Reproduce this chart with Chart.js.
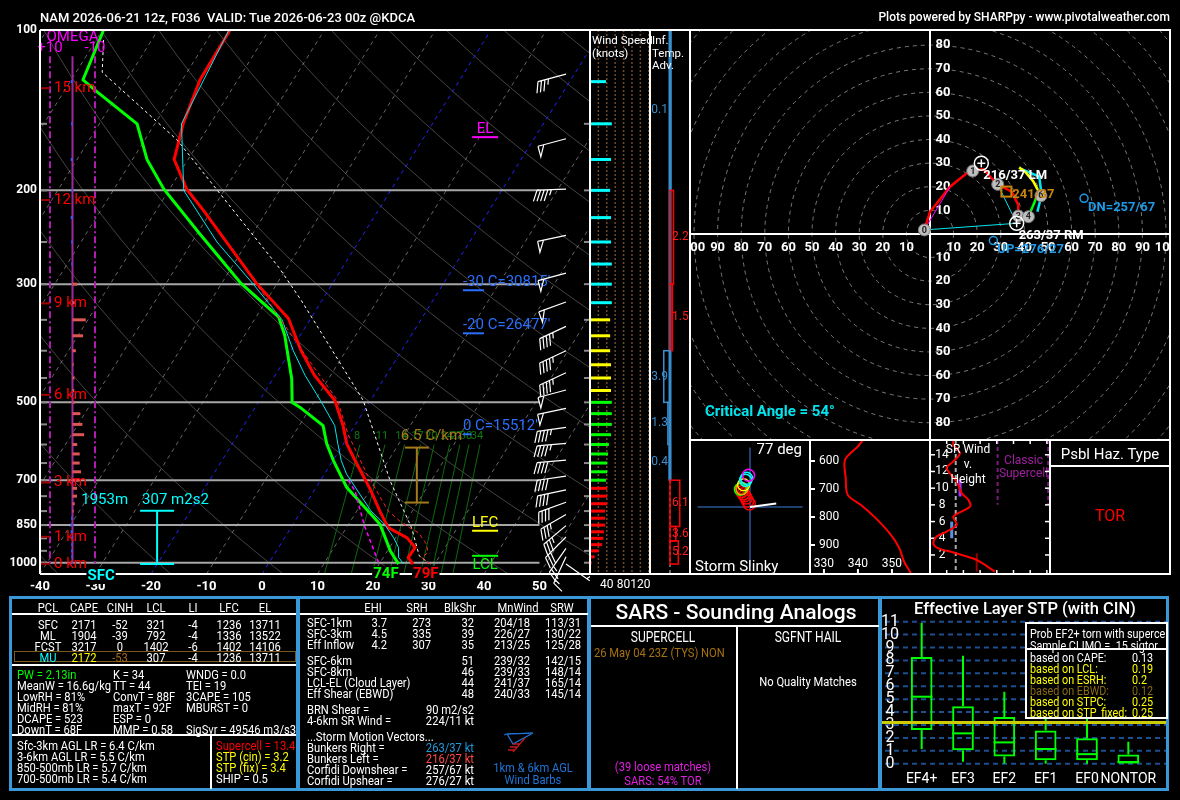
<!DOCTYPE html>
<html>
<head>
<meta charset="utf-8">
<title>NAM KDCA sounding</title>
<script src="https://cdn.jsdelivr.net/npm/chart.js@4.4.1/dist/chart.umd.min.js"></script>
<style>
  html, body { margin: 0; padding: 0; background: #000; }
  #wrap { position: relative; width: 1180px; height: 800px; overflow: hidden; background: #000;
          font-family: Roboto, "Liberation Sans", sans-serif; color: #fff; }
  #wrap canvas { position: absolute; }
  .t { position: absolute; white-space: pre; line-height: 1; }
  .ln { position: absolute; }
  .pan { position: absolute; border: 3px solid #3b98d8; box-sizing: border-box; background: transparent; }
</style>
</head>
<body>
<div id="wrap">
  <canvas id="skew" width="590" height="600" style="left:0;top:0"></canvas>
  <canvas id="spd" width="60" height="570" style="left:590px;top:30px"></canvas>
  <canvas id="adv" width="40" height="544" style="left:650px;top:30px"></canvas>
  <canvas id="hodo" width="480" height="410" style="left:690px;top:30px"></canvas>
  <canvas id="slinky" width="120" height="134" style="left:690px;top:440px"></canvas>
  <canvas id="thetae" width="120" height="134" style="left:810px;top:440px"></canvas>
  <canvas id="srw" width="120" height="134" style="left:930px;top:440px"></canvas>
  <canvas id="stp" width="288" height="195" style="left:880px;top:597px"></canvas>
</div>
<script>
// ---------- sounding profile ----------
const tempP = [1006, 978, 936, 897, 859, 799, 727, 643, 598, 553, 496, 445, 400, 348, 299, 218, 199, 175, 150, 124, 100];
const tempC = [26.1, 24.5, 24.6, 22.0, 17.5, 14.1, 9.9, 4.0, 0.6, -2.1, -6.4, -12.9, -18.1, -24.0, -33.7, -51.5, -56.9, -62.5, -64.9, -66.8, -67.0];
const dwptP = [1006, 950, 910, 846, 776, 722, 643, 598, 553, 511, 500, 452, 374, 346, 299, 241, 199, 175, 150, 130, 124, 100];
const dwptC = [23.5, 20.5, 18.7, 15.6, 10.1, 5.5, 0.1, -3.0, -5.7, -11.9, -13.9, -16.6, -22.8, -25.9, -36.5, -49.6, -61.0, -67.4, -73.2, -84.4, -87.9, -89.8];
const vtP = [1006, 978, 957, 923, 878, 846, 799, 681, 573, 496, 400, 300];
const vtC = [29.2, 26.9, 27.5, 26.3, 23.5, 19.8, 15.6, 7.6, -0.3, -5.9, -17.9, -33.6];
const wetP = [1006, 978, 936, 897, 846, 799, 743, 682, 643, 598, 553, 496, 445, 400, 350, 300, 250, 200, 150, 100];
const wetC = [24.4, 22.8, 21.6, 19.6, 16.4, 12.5, 8.6, 4.0, 1.5, -1.0, -3.6, -9.0, -14.6, -19.5, -25.0, -34.2, -45.5, -57.3, -65.2, -67.2];
const parcelP = [1006, 971, 859, 702, 496, 322, 279, 161, 120, 103];
const parcelC = [29.2, 26.3, 21.7, 12.6, -1.3, -23.7, -31.5, -64.1, -85.3, -89.0];
const ddP = [700, 733, 852, 1006];
const ddC = [5.0, 7.4, 13.0, 20.0];

// wind barbs
const barbP = [121, 160, 199, 243, 286, 324, 360, 400, 440, 474, 513, 557, 597, 642, 688, 730, 770, 812, 852, 895, 940, 975, 1006];
const barbDir = [255, 255, 268, 258, 255, 250, 245, 245, 245, 255, 258, 262, 265, 265, 262, 258, 250, 240, 230, 225, 215, 205, 125];
const barbSpd = [35, 50, 45, 50, 50, 50, 45, 45, 45, 50, 50, 45, 45, 40, 40, 40, 40, 35, 35, 30, 25, 15, 5];

// wind speed column (every 25 mb)
const spdP = [125, 150, 175, 200, 225, 250, 275, 300, 325, 350, 375, 400, 425, 450, 475, 500, 525, 550, 575, 600, 625, 650, 675, 700, 725, 750, 775, 800, 825, 850, 875, 900, 925, 950, 975, 1000];
const spdKt = [38, 52, 50, 48, 50, 50, 52, 52, 52, 48, 48, 48, 50, 50, 50, 52, 52, 52, 50, 45, 43, 41, 41, 38, 41, 41, 41, 36, 36, 36, 33, 32, 29, 21, 11, 4];

// omega (microbar/s)
const omegaP = spdP;
const omegaV = [0.8, 0.6, 0.8, 0.5, 0.8, 0.6, 0.5, -2.1, -1.0, -5.9, -4.7, -1.5, -0.5, -0.9, -0.8, -1.0, -3.5, -4.4, -5.2, -2.1, -3.2, -3.2, -3.8, -3.0, -2.0, -2.0, -1.0, -0.5, 0.6, 0.8, 0.8, 0.6, 0.5, 0.6, 0.5, 0.4];

// height markers
const hgtKm = [0, 1, 3, 6, 9, 12, 15];
const hgtP = [1005, 894, 707, 484, 326, 208.5, 128.6];

// parcel levels, isotherm heights
const lvlName = ['LCL', 'LFC', 'EL'];
const lvlP = [970.6, 871, 158.9];
const lvlColor = ['#00ff00', '#ffff00', '#ff00ff'];
const isoText = ["-30 C=30815'", "-20 C=26477'", "0 C=15512'"];
const isoP = [308, 371, 574];
const mixRatios = [8, 11, 14, 17, 20, 24, 27, 30, 34];

// inferred temperature advection
const advTop = [100, 200, 300, 400, 500, 600, 700, 855, 910];
const advBot = [200, 300, 400, 500, 600, 700, 855, 910, 1006];
const advVal = [-0.1, 2.2, 1.5, -3.9, -1.3, -0.4, 6.1, 3.6, 5.2];

// hodograph (kt)
const hodoKm = [0, 0.25, 0.5, 0.8, 1.0, 1.3, 1.7, 2.0, 2.4, 2.7, 2.9, 3.0, 3.5, 4.0, 4.7, 5.4, 6.0, 6.8, 7.6, 8.3, 9.0, 10.0, 11.0, 12.0];
const hodoU = [-2.4, 0, 8.5, 15.5, 18.1, 22.6, 26.1, 28.7, 34.6, 37.4, 37.4, 37.4, 39.5, 41.7, 43.8, 45.2, 47.0, 43.8, 40.3, 37.8, 38.6, 46.3, 47.3, 45.5];
const hodoV = [1.7, 9.4, 20.0, 25.7, 26.7, 27.5, 23.6, 21.0, 17.9, 12.3, 8.8, 7.6, 6.2, 7.3, 12.3, 15.8, 16.2, 22.2, 26.4, 28.1, 27.5, 24.3, 16.5, 9.4];
const hodoMarks = [0, 1, 2, 3, 4, 6];
const stormDir = [263, 216];
const stormSpd = [37, 37];
const meanDir = 241, meanSpd = 37;
const corfDir = [257, 276];
const corfSpd = [67, 27];

// storm slinky
const slinkyX = [-0.7, -2.7, -4.3, -6.0, -7.7, -9.3, -11.0, -9.3, -7.3, -5.0, -4.0, -1.7];
const slinkyY = [3.3, 6.7, 10.0, 12.7, 15.0, 17.3, 20.0, 20.7, 25.0, 30.0, 32.3, 35.7];
const slinkyCol = ['#ff0000', '#ff0000', '#ff0000', '#ff0000', '#ff0000', '#ff0000', '#00ff00', '#ff9900', '#ffff00', '#00ffff', '#00ffff', '#ff00ff'];
const slinkyVec = [30, 4];

// theta-e
const teP = [525, 549, 596, 660, 721, 757, 805, 864, 912, 960, 1001];
const teK = [341.5, 339.9, 336.2, 336.4, 337.0, 340.9, 345.3, 349.7, 352.2, 353.6, 355.6];

// storm-relative wind vs height
const srKm = [0, 1.4, 2.3, 2.8, 3.4, 4.2, 4.8, 5.6, 6.6, 7.8, 8.6, 9.4, 10.8, 12.4, 13.2, 14.2, 15.2, 15.8];
const srKt = [38.9, 28, 14, 5, 2, 4, 10, 16, 14, 24, 23, 19, 16, 10, 14, 18, 14, 14];

// STP box plot
const stpCats = ['EF4+', 'EF3', 'EF2', 'EF1', 'EF0', 'NONTOR'];
const stpLo = [1.14, 0.15, 0, 0, 0, 0];
const stpQ1 = [2.61, 1.04, 0.56, 0.26, 0.26, 0];
const stpMed = [5.19, 2.35, 1.65, 1.14, 0.74, 0.13];
const stpQ3 = [8.27, 4.45, 3.62, 2.58, 1.97, 0.71];
const stpHi = [10.9, 8.36, 5.57, 4.4, 3.54, 1.7];
const stpNow = 3.2;

// ---------- helpers ----------
const P_BOT = 1050;
const SKEW = 26.05;
const sx = (t, p) => t + SKEW * Math.log(P_BOT / p);
const toPts = (ps, ts) => ps.map((p, i) => ({ x: sx(ts[i], p), y: p }));
const uv = (dir, spd) => ({ x: -spd * Math.sin(dir * Math.PI / 180), y: -spd * Math.cos(dir * Math.PI / 180) });

function trace(data, color, width, dash, tension) {
  return { data, borderColor: color, borderWidth: width, borderDash: dash || [], showLine: true,
           pointRadius: 0, fill: false, tension: tension || 0 };
}
function seg(ctx, x1, y1, x2, y2) { ctx.beginPath(); ctx.moveTo(x1, y1); ctx.lineTo(x2, y2); ctx.stroke(); }
function ctext(ctx, s, x, y, font, color, align, bg) {
  ctx.font = font; ctx.textAlign = align || 'center'; ctx.textBaseline = 'middle';
  if (bg) {
    const w = ctx.measureText(s).width;
    const x0 = align === 'left' ? x : align === 'right' ? x - w : x - w / 2;
    ctx.fillStyle = bg; ctx.fillRect(x0 - 1, y - 8, w + 2, 16);
  }
  ctx.fillStyle = color; ctx.fillText(s, x, y);
}
function baseOpts(pad, scales) {
  return { responsive: false, animation: false, events: [],
           layout: { padding: pad },
           plugins: { legend: { display: false }, tooltip: { enabled: false } },
           scales };
}
function drawBarb(ctx, x0, y0, dir, spd) {
  const L = 29, F = 11, G = 3.6;
  const r = dir * Math.PI / 180;
  const vx = Math.sin(r), vy = -Math.cos(r);
  const nx = vy, ny = -vx;
  const tx = x0 + vx * L, ty = y0 + vy * L;
  ctx.beginPath(); ctx.moveTo(x0, y0); ctx.lineTo(tx, ty);
  let s = Math.round(spd / 5) * 5, d = 0;
  while (s >= 50) {
    const ax = tx - vx * d, ay = ty - vy * d;
    ctx.moveTo(ax, ay); ctx.lineTo(ax + nx * F, ay + ny * F); ctx.lineTo(tx - vx * (d + 6), ty - vy * (d + 6));
    d += 8; s -= 50;
  }
  while (s >= 10) {
    const ax = tx - vx * d, ay = ty - vy * d;
    ctx.moveTo(ax, ay); ctx.lineTo(ax + nx * F + vx * 4, ay + ny * F + vy * 4);
    d += G; s -= 10;
  }
  if (s >= 5) {
    if (d === 0) d = G;
    const ax = tx - vx * d, ay = ty - vy * d;
    ctx.moveTo(ax, ay); ctx.lineTo(ax + nx * F / 2 + vx * 2, ay + ny * F / 2 + vy * 2);
  }
  ctx.stroke();
}

// ---------- skew-T ----------
const skewDeco = {
  id: 'skewDeco',
  beforeDatasetsDraw(chart) {
    const { ctx, chartArea: a } = chart;
    const xs = chart.scales.x, ys = chart.scales.y;
    const px = (t, p) => xs.getPixelForValue(sx(t, p));
    const py = p => ys.getPixelForValue(p);
    ctx.save();
    ctx.beginPath(); ctx.rect(a.left, a.top, a.width, a.height); ctx.clip();
    // dry adiabats
    ctx.lineWidth = 1; ctx.strokeStyle = 'rgba(170,170,170,0.4)';
    for (let th = -40; th <= 260; th += 20) {
      ctx.beginPath();
      for (let p = 1050; p >= 100; p -= 10) {
        const t = (th + 273.15) * Math.pow(p / 1000, 0.2857) - 273.15;
        if (p === 1050) ctx.moveTo(px(t, p), py(p)); else ctx.lineTo(px(t, p), py(p));
      }
      ctx.stroke();
    }
    // isotherms
    ctx.setLineDash([4, 4]); ctx.strokeStyle = 'rgba(170,170,170,0.6)';
    for (let t = -120; t <= 60; t += 10) {
      if (t === 0 || t === -20) continue;
      seg(ctx, px(t, 1050), py(1050), px(t, 100), py(100));
    }
    ctx.strokeStyle = '#2323ff';
    [0, -20].forEach(t => seg(ctx, px(t, 1050), py(1050), px(t, 100), py(100)));
    // mixing ratio lines
    ctx.setLineDash([]); ctx.strokeStyle = '#0c6a0c'; ctx.lineWidth = 1;
    const tdw = (w, p) => { const e = w * p / (622 + w); const l = Math.log(e / 6.112); return 243.5 * l / (17.67 - l); };
    mixRatios.forEach(w => {
      seg(ctx, px(tdw(w, 1050), 1050), py(1050), px(tdw(w, 600), 600), py(600));
      ctext(ctx, String(w), px(tdw(w, 600), 600) - 3, py(600) - 8, '11px Roboto', '#0d7a0d');
    });
    ctx.restore();
    // pressure lines
    ctx.save();
    ctx.strokeStyle = '#a6a6a6'; ctx.lineWidth = 2;
    [200, 300, 500, 700, 850, 1000].forEach(p => seg(ctx, a.left, py(p), xs.getPixelForValue(50), py(p)));
    ctx.strokeStyle = '#8a8a8a';
    for (let p = 150; p <= 1000; p += 50) {
      seg(ctx, a.left, py(p), a.left + 7, py(p));
      seg(ctx, a.right - 6, py(p), a.right, py(p));
    }
    ctx.restore();
  },
  afterDatasetsDraw(chart) {
    const { ctx, chartArea: a } = chart;
    const xs = chart.scales.x, ys = chart.scales.y, xo = chart.scales.xo;
    const py = p => ys.getPixelForValue(p);
    const ppx = v => xs.getPixelForValue(v);
    ctx.save();
    // omega column
    const o0 = xo.getPixelForValue(0), oP = xo.getPixelForValue(10), oM = xo.getPixelForValue(-10);
    ctx.lineWidth = 2; ctx.strokeStyle = '#b01cb0'; ctx.setLineDash([7, 3, 2, 3]);
    [oP, oM].forEach(x => seg(ctx, x, py(112), x, py(1006)));
    ctx.setLineDash([]); ctx.strokeStyle = '#9c2a9c';
    seg(ctx, o0, py(112), o0, py(1006));
    ctx.lineWidth = 3;
    omegaP.forEach((p, i) => {
      ctx.strokeStyle = omegaV[i] < 0 ? '#de5555' : '#2f5fff';
      seg(ctx, o0, py(p), xo.getPixelForValue(omegaV[i]), py(p));
    });
    ctext(ctx, 'OMEGA', (oP + oM) / 2, 37, '15px Roboto', '#ff00ff');
    ctext(ctx, '+10', oP, 48, '15px Roboto', '#ff00ff');
    ctext(ctx, '-10', oM, 48, '15px Roboto', '#ff00ff');
    // heights
    hgtKm.forEach((k, i) => {
      ctx.strokeStyle = '#a00000'; ctx.lineWidth = 2;
      seg(ctx, a.left, py(hgtP[i]), a.left + 10, py(hgtP[i]));
      ctext(ctx, k + ' km', a.left + 14, py(hgtP[i]), '15px Roboto', '#ff0000', 'left');
    });
    // effective inflow layer
    const ex = ppx(-18.9), et = py(799), eb = py(1006);
    ctx.strokeStyle = '#00ffff'; ctx.lineWidth = 2;
    seg(ctx, ex, et, ex, eb); seg(ctx, ex - 17, et, ex + 17, et); seg(ctx, ex - 17, eb, ex + 17, eb);
    ctext(ctx, '1953m', ex - 29, et - 11, '15px Roboto', '#00ffff', 'right');
    ctext(ctx, '307 m2s2', ex - 15, et - 11, '15px Roboto', '#00ffff', 'left');
    // lapse rate bracket
    const lx = ppx(27.9), lt = py(608), lb = py(771);
    ctx.strokeStyle = '#a57a1c';
    seg(ctx, lx, lt, lx, lb); seg(ctx, lx - 12, lt, lx + 12, lt); seg(ctx, lx - 12, lb, lx + 12, lb);
    ctext(ctx, '6.5 C/km', lx - 16, lt - 11, '15px Roboto', '#a57a1c', 'left');
    // parcel levels
    const lvx = ppx(40.2);
    lvlName.forEach((n, i) => {
      const y = py(lvlP[i]);
      ctx.strokeStyle = lvlColor[i]; ctx.lineWidth = 2;
      seg(ctx, lvx - 13, y, lvx + 13, y);
      ctext(ctx, n, lvx, n === 'LCL' ? y + 9 : y - 8, '15px Roboto', lvlColor[i]);
    });
    // isotherm heights
    const ix = ppx(36.2);
    isoText.forEach((s, i) => {
      const y = py(isoP[i]);
      ctx.font = '15px Roboto';
      const w = ctx.measureText(s.split(' ')[0]).width;
      ctx.strokeStyle = '#2a6fff'; ctx.lineWidth = 2;
      seg(ctx, ix, y, ix + w, y);
      ctext(ctx, s, ix, y - 8, '15px Roboto', '#2a6fff', 'left');
    });
    // barbs
    ctx.strokeStyle = '#fff'; ctx.lineWidth = 1.2;
    barbP.forEach((p, i) => drawBarb(ctx, a.right - 24, py(p), barbDir[i], barbSpd[i]));
    // frame
    ctx.strokeStyle = '#fff'; ctx.lineWidth = 2;
    seg(ctx, a.left, a.top, a.left, a.bottom);
    seg(ctx, a.left, a.bottom, a.right, a.bottom);
    seg(ctx, a.left, a.top, a.right, a.top);
    // axis labels
    for (let t = -40; t <= 50; t += 10) ctext(ctx, String(t), ppx(t), a.bottom + 13, 'bold 13px Roboto', '#fff');
    [100, 200, 300, 500, 700, 850, 1000].forEach(p => ctext(ctx, String(p), a.left - 3, py(p), 'bold 12px Roboto', '#fff', 'right'));
    const tF = Math.round(tempC[0] * 9 / 5 + 32), dF = Math.round(dwptC[0] * 9 / 5 + 32);
    ctext(ctx, tF + 'F', ppx(sx(tempC[0], tempP[0])), a.bottom, 'bold 15px Roboto', '#ff0000', 'left', '#000');
    ctext(ctx, dF + 'F', ppx(sx(dwptC[0], dwptP[0])), a.bottom, 'bold 15px Roboto', '#00ff00', 'right', '#000');
    ctext(ctx, 'SFC', ppx(-29), a.bottom + 2, 'bold 15px Roboto', '#00ffff', 'center', '#000');
    ctx.restore();
  }
};

new Chart(document.getElementById('skew'), {
  type: 'scatter',
  data: { datasets: [
    trace(toPts(vtP, vtC), '#ff2020', 1, [4, 3]),
    trace(toPts(wetP, wetC), '#00e5ee', 1),
    trace(toPts(parcelP, parcelC), '#ffffff', 1, [3, 3]),
    trace(toPts(ddP, ddC), '#ff00ff', 1.5, [4, 3]),
    trace(toPts(dwptP, dwptC), '#00ff00', 3),
    trace(toPts(tempP, tempC), '#ff0000', 3)
  ] },
  options: baseOpts({ left: 40, top: 30, right: 0, bottom: 26 }, {
    x: { type: 'linear', display: false, min: -40, max: -40 + 550 / 5.55 },
    xo: { type: 'linear', axis: 'x', position: 'bottom', display: false, min: -230, max: 14.444, reverse: true },
    y: { type: 'logarithmic', display: false, min: 100, max: 1050, reverse: true }
  }),
  plugins: [skewDeco]
});

// ---------- wind speed column ----------
const spdColor = p => p > hgtP[2] ? '#ff0000' : p > hgtP[3] ? '#00ff00' : p > hgtP[4] ? '#ffff00' : '#00ffff';
const spdDeco = {
  id: 'spdDeco',
  beforeDatasetsDraw(chart) {
    const { ctx, chartArea: a, scales: { x } } = chart;
    ctx.save();
    ctx.strokeStyle = '#6e4a2e'; ctx.lineWidth = 1.5; ctx.setLineDash([2, 2]);
    for (let v = 20; v <= 140; v += 20) seg(ctx, x.getPixelForValue(v), a.top, x.getPixelForValue(v), a.bottom);
    ctx.setLineDash([]);
    [40, 80, 120].forEach(v => ctext(ctx, String(v), x.getPixelForValue(v), a.bottom + 11, '12px Roboto', '#fff'));
    ctx.restore();
  }
};
new Chart(document.getElementById('spd'), {
  type: 'scatter',
  data: { datasets: spdP.map((p, i) => trace([{ x: 0, y: p }, { x: spdKt[i], y: p }], spdColor(p), 3)) },
  options: baseOpts({ left: 0, top: 0, right: 0, bottom: 26 }, {
    x: { type: 'linear', display: false, min: 0, max: 143 },
    y: { type: 'logarithmic', display: false, min: 100, max: 1050, reverse: true }
  }),
  plugins: [spdDeco]
});

// ---------- inferred temperature advection ----------
const advDeco = {
  id: 'advDeco',
  afterDatasetsDraw(chart) {
    const { ctx, chartArea: a, scales: { x, y } } = chart;
    const x0 = x.getPixelForValue(0);
    ctx.save();
    ctx.strokeStyle = '#888'; ctx.lineWidth = 1.5; ctx.setLineDash([3, 3]);
    seg(ctx, x0, a.top, x0, a.bottom);
    ctx.setLineDash([]);
    ctx.strokeStyle = '#3a8fd0'; ctx.lineWidth = 3;
    seg(ctx, x0, y.getPixelForValue(100), x0, y.getPixelForValue(700));
    advVal.forEach((v, i) => {
      const yt = y.getPixelForValue(advTop[i]), yb = y.getPixelForValue(advBot[i]);
      const xv = x.getPixelForValue(v);
      const c = v < 0 ? '#3a8fd0' : '#ff0000';
      ctx.strokeStyle = c; ctx.lineWidth = 1.5;
      ctx.strokeRect(Math.min(x0, xv), yt, Math.max(Math.abs(xv - x0), 1), yb - yt);
      const ym = y.getPixelForValue(Math.sqrt(advTop[i] * advBot[i]));
      ctext(ctx, v.toFixed(1), v < 0 ? x0 - 2 : x0 + 2, ym, '12px Roboto', v < 0 ? '#3a8fd0' : '#ff2020', v < 0 ? 'right' : 'left');
    });
    ctx.restore();
  }
};
new Chart(document.getElementById('adv'), {
  type: 'scatter',
  data: { datasets: [] },
  options: baseOpts(0, {
    x: { type: 'linear', display: false, min: -12.5, max: 12.5 },
    y: { type: 'logarithmic', display: false, min: 100, max: 1050, reverse: true }
  }),
  plugins: [advDeco]
});

// ---------- hodograph ----------
const hodoPts = hodoKm.map((k, i) => ({ k, x: hodoU[i], y: hodoV[i] }));
const hodoSeg = (lo, hi) => hodoPts.filter(o => o.k >= lo && o.k <= hi).map(o => ({ x: o.x, y: o.y }));
const atKm = k => hodoPts.find(o => o.k === k);
const rm = uv(stormDir[0], stormSpd[0]), lm = uv(stormDir[1], stormSpd[1]);
const hodoDeco = {
  id: 'hodoDeco',
  beforeDatasetsDraw(chart) {
    const { ctx, chartArea: a, scales: { x, y } } = chart;
    const cx = x.getPixelForValue(0), cy = y.getPixelForValue(0);
    const k = x.getPixelForValue(1) - cx;
    ctx.save();
    ctx.beginPath(); ctx.rect(a.left, a.top, a.width, a.height); ctx.clip();
    ctx.strokeStyle = '#7a7a7a'; ctx.lineWidth = 1; ctx.setLineDash([4, 4]);
    for (let r = 10; r <= 140; r += 10) { ctx.beginPath(); ctx.arc(cx, cy, r * k, 0, Math.PI * 2); ctx.stroke(); }
    ctx.setLineDash([]); ctx.strokeStyle = '#fff'; ctx.lineWidth = 2;
    seg(ctx, a.left, cy, a.right, cy); seg(ctx, cx, a.top, cx, a.bottom);
    for (let r = 10; r <= 100; r += 10) {
      ctext(ctx, String(r), cx + r * k, cy + 14, 'bold 13px Roboto', '#fff');
      ctext(ctx, String(r), cx - r * k, cy + 14, 'bold 13px Roboto', '#fff');
      if (r <= 90) {
        ctext(ctx, String(r), cx + 13, cy - r * k, 'bold 13px Roboto', '#fff');
        ctext(ctx, String(r), cx + 13, cy + r * k, 'bold 13px Roboto', '#fff');
      }
    }
    ctx.restore();
  },
  afterDatasetsDraw(chart) {
    const { ctx, scales: { x, y } } = chart;
    const P = o => [x.getPixelForValue(o.x), y.getPixelForValue(o.y)];
    ctx.save();
    hodoMarks.forEach(km => {
      const [X, Y] = P(atKm(km));
      ctx.beginPath(); ctx.arc(X, Y, 6, 0, Math.PI * 2);
      ctx.fillStyle = '#bdbdbd'; ctx.fill(); ctx.strokeStyle = '#777'; ctx.lineWidth = 1; ctx.stroke();
      ctext(ctx, String(km), X, Y + 0.5, 'bold 9px Roboto', '#222');
    });
    [rm, lm].forEach(o => {
      const [X, Y] = P(o);
      ctx.strokeStyle = '#fff'; ctx.lineWidth = 1.5;
      ctx.beginPath(); ctx.arc(X, Y, 7, 0, Math.PI * 2); ctx.stroke();
      seg(ctx, X - 4, Y, X + 4, Y); seg(ctx, X, Y - 4, X, Y + 4);
    });
    ctext(ctx, stormDir[1] + '/' + stormSpd[1] + ' LM', P(lm)[0] + 2, P(lm)[1] + 12, 'bold 13px Roboto', '#fff', 'left');
    ctext(ctx, stormDir[0] + '/' + stormSpd[0] + ' RM', P(rm)[0] + 2, P(rm)[1] + 12, 'bold 13px Roboto', '#fff', 'left');
    const mw = P(uv(meanDir, meanSpd));
    ctx.strokeStyle = '#c8850c'; ctx.lineWidth = 2; ctx.strokeRect(mw[0] - 5, mw[1] - 5, 10, 10);
    ctext(ctx, meanDir + '/' + meanSpd, mw[0] + 6, mw[1] + 3, 'bold 13px Roboto', '#c8850c', 'left');
    ['DN', 'UP'].forEach((n, i) => {
      const [X, Y] = P(uv(corfDir[i], corfSpd[i]));
      ctx.strokeStyle = '#1e9be8'; ctx.lineWidth = 1.5;
      ctx.beginPath(); ctx.arc(X, Y, 4, 0, Math.PI * 2); ctx.stroke();
      ctext(ctx, n + '=' + corfDir[i] + '/' + corfSpd[i], X + 4, Y + 9, 'bold 13px Roboto', '#1e9be8', 'left');
    });
    ctext(ctx, 'Critical Angle = 54\u00b0', 15, 382, 'bold 15px Roboto', '#00e5ee', 'left');
    ctx.restore();
  }
};
new Chart(document.getElementById('hodo'), {
  type: 'scatter',
  data: { datasets: [
    trace([atKm(0), atKm(0.5)], '#ff00ff', 1),
    trace([rm, atKm(0)], '#00e5ee', 1),
    trace([rm, atKm(2.0)], '#00e5ee', 1),
    trace(hodoSeg(0, 3), '#ff0000', 2.5),
    trace(hodoSeg(3, 6), '#00ff00', 2.5),
    trace(hodoSeg(6, 9), '#ffff00', 2.5),
    trace(hodoSeg(9, 12), '#00e5ee', 2.5)
  ] },
  options: baseOpts(0, {
    x: { type: 'linear', display: false, min: -101.7, max: 101.7 },
    y: { type: 'linear', display: false, min: -87.3, max: 86.4 }
  }),
  plugins: [hodoDeco]
});

// ---------- storm slinky ----------
const slinkyDeco = {
  id: 'slinkyDeco',
  beforeDatasetsDraw(chart) {
    const { ctx, chartArea: a, scales: { x, y } } = chart;
    ctx.save(); ctx.strokeStyle = '#1f3f6e'; ctx.lineWidth = 2;
    seg(ctx, a.left, y.getPixelForValue(0), a.right, y.getPixelForValue(0));
    seg(ctx, x.getPixelForValue(0), a.top, x.getPixelForValue(0), a.bottom);
    ctx.restore();
  },
  afterDatasetsDraw(chart) {
    const { ctx, scales: { x, y } } = chart;
    ctx.save(); ctx.strokeStyle = '#fff'; ctx.lineWidth = 2;
    seg(ctx, x.getPixelForValue(0), y.getPixelForValue(0), x.getPixelForValue(slinkyVec[0]), y.getPixelForValue(slinkyVec[1]));
    ctext(ctx, '77 deg', 112, 10, '15px Roboto', '#fff', 'right');
    ctext(ctx, 'Storm Slinky', 5, 127, '15px Roboto', '#fff', 'left');
    ctx.restore();
  }
};
new Chart(document.getElementById('slinky'), {
  type: 'scatter',
  data: { datasets: [{ data: slinkyX.map((v, i) => ({ x: v, y: slinkyY[i] })), pointRadius: 6,
    pointBorderColor: slinkyCol, pointBackgroundColor: 'rgba(0,0,0,0)', pointBorderWidth: 1.5 }] },
  options: baseOpts(0, {
    x: { type: 'linear', display: false, min: -60, max: 60 },
    y: { type: 'linear', display: false, min: -67, max: 67 }
  }),
  plugins: [slinkyDeco]
});

// ---------- theta-e ----------
const teDeco = {
  id: 'teDeco',
  afterDatasetsDraw(chart) {
    const { ctx, chartArea: a, scales: { x, y } } = chart;
    ctx.save(); ctx.strokeStyle = '#fff'; ctx.lineWidth = 2;
    [600, 700, 800, 900].forEach(p => {
      seg(ctx, a.left, y.getPixelForValue(p), a.left + 5, y.getPixelForValue(p));
      ctext(ctx, String(p), a.left + 9, y.getPixelForValue(p), '12px Roboto', '#fff', 'left');
    });
    [330, 340, 350].forEach(t => {
      seg(ctx, x.getPixelForValue(t), a.bottom - 5, x.getPixelForValue(t), a.bottom);
      ctext(ctx, String(t), x.getPixelForValue(t), a.bottom - 10, '12px Roboto', '#fff');
    });
    ctx.restore();
  }
};
new Chart(document.getElementById('thetae'), {
  type: 'scatter',
  data: { datasets: [trace(teK.map((v, i) => ({ x: v, y: teP[i] })), '#ff0000', 2, [], 0.3)] },
  options: baseOpts(0, {
    x: { type: 'linear', display: false, min: 325.9, max: 361.2 },
    y: { type: 'linear', display: false, min: 525, max: 1003.6, reverse: true }
  }),
  plugins: [teDeco]
});

// ---------- SR wind vs height ----------
const srDeco = {
  id: 'srDeco',
  beforeDatasetsDraw(chart) {
    const { ctx, chartArea: a, scales: { x, y } } = chart;
    ctx.save();
    ctx.strokeStyle = '#aaa'; ctx.lineWidth = 2; ctx.setLineDash([4, 3]);
    seg(ctx, x.getPixelForValue(15.4), a.top, x.getPixelForValue(15.4), a.bottom);
    ctx.strokeStyle = '#7a1a7a';
    [40.5, 70.8].forEach(v => seg(ctx, x.getPixelForValue(v), a.top, x.getPixelForValue(v), y.getPixelForValue(8)));
    ctx.setLineDash([]);
    ctext(ctx, 'Classic', x.getPixelForValue(56), 21, '12px Roboto', '#a020a0');
    ctext(ctx, 'Supercell', x.getPixelForValue(56), 34, '12px Roboto', '#a020a0');
    ctx.strokeStyle = '#fff'; ctx.lineWidth = 1.5;
    for (let h = 2; h <= 14; h += 2) {
      seg(ctx, a.left, y.getPixelForValue(h), a.left + 5, y.getPixelForValue(h));
      seg(ctx, a.right - 5, y.getPixelForValue(h), a.right, y.getPixelForValue(h));
      ctext(ctx, String(h), a.left + 12, y.getPixelForValue(h), '12px Roboto', '#fff');
    }
    for (let v = 10; v <= 70; v += 10) {
      seg(ctx, x.getPixelForValue(v), a.top, x.getPixelForValue(v), a.top + 4);
      seg(ctx, x.getPixelForValue(v), a.bottom - 4, x.getPixelForValue(v), a.bottom);
    }
    ctx.lineWidth = 2; ctx.strokeStyle = '#990000';
    seg(ctx, x.getPixelForValue(28), y.getPixelForValue(0), x.getPixelForValue(28), y.getPixelForValue(2.2));
    ctx.lineWidth = 3; ctx.strokeStyle = '#5c8fe0';
    seg(ctx, x.getPixelForValue(13), y.getPixelForValue(4), x.getPixelForValue(13), y.getPixelForValue(6));
    ctx.strokeStyle = '#9933ff';
    seg(ctx, x.getPixelForValue(18), y.getPixelForValue(9), x.getPixelForValue(18), y.getPixelForValue(11));
    ctx.restore();
  },
  afterDatasetsDraw(chart) {
    const { ctx } = chart;
    ctext(ctx, 'SR Wind', 38, 10, '12px Roboto', '#fff');
    ctext(ctx, 'v.', 38, 25, '12px Roboto', '#fff');
    ctext(ctx, 'Height', 38, 40, '12px Roboto', '#fff');
  }
};
new Chart(document.getElementById('srw'), {
  type: 'scatter',
  data: { datasets: [trace(srKt.map((v, i) => ({ x: v, y: srKm[i] })), '#ff0000', 2, [], 0.3)] },
  options: baseOpts(0, {
    x: { type: 'linear', display: false, min: 0, max: 71.86 },
    y: { type: 'linear', display: false, min: -0.28, max: 15.77 }
  }),
  plugins: [srDeco]
});

// ---------- STP box plot ----------
const stpDeco = {
  id: 'stpDeco',
  beforeDatasetsDraw(chart) {
    const { ctx, scales: { y } } = chart;
    ctx.save();
    ctx.strokeStyle = '#1d4f91'; ctx.lineWidth = 2; ctx.setLineDash([5, 4]);
    for (let v = 0; v <= 11; v++) seg(ctx, 5, y.getPixelForValue(v), 286, y.getPixelForValue(v));
    ctx.setLineDash([]);
    for (let v = 0; v <= 11; v++) ctext(ctx, String(v), 10, y.getPixelForValue(v), '16px Roboto', '#fff');
    ctx.restore();
  },
  afterDatasetsDraw(chart) {
    const { ctx, scales: { x, y } } = chart;
    const meta = chart.getDatasetMeta(0);
    ctx.save(); ctx.strokeStyle = '#00ff00'; ctx.lineWidth = 2;
    stpCats.forEach((c, i) => {
      const cx = x.getPixelForValue(i), hw = meta.data[i].width / 2;
      seg(ctx, cx, y.getPixelForValue(stpHi[i]), cx, y.getPixelForValue(stpQ3[i]));
      seg(ctx, cx, y.getPixelForValue(stpQ1[i]), cx, y.getPixelForValue(stpLo[i]));
      seg(ctx, cx - hw, y.getPixelForValue(stpMed[i]), cx + hw, y.getPixelForValue(stpMed[i]));
      ctext(ctx, c, cx, 182, '14px Roboto', '#fff');
    });
    ctx.strokeStyle = '#cccc00'; ctx.lineWidth = 3;
    seg(ctx, 0, y.getPixelForValue(stpNow), 288, y.getPixelForValue(stpNow));
    ctx.restore();
  }
};
new Chart(document.getElementById('stp'), {
  type: 'bar',
  data: { labels: stpCats, datasets: [{ data: stpQ1.map((q, i) => [q, stpQ3[i]]), backgroundColor: 'rgba(0,0,0,0)',
    borderColor: '#00ff00', borderWidth: 2, borderSkipped: false, barPercentage: 0.525, categoryPercentage: 1 }] },
  options: baseOpts({ left: 21, right: 19, top: 24.7, bottom: 28.3 }, {
    x: { type: 'category', display: false },
    y: { type: 'linear', display: false, min: 0, max: 11 }
  }),
  plugins: [stpDeco]
});

// ---------- text and frames ----------
const wrap = document.getElementById('wrap');
function txt(x, y, s, o) {
  o = o || {};
  const d = document.createElement('div');
  d.className = 't';
  d.textContent = s;
  d.style.left = x + 'px'; d.style.top = y + 'px';
  d.style.color = o.c || '#fff';
  d.style.fontSize = (o.s || 11.5) + 'px';
  if (o.w) d.style.fontWeight = o.w;
  const ax = o.a === 'c' ? '-50%' : o.a === 'r' ? '-100%' : '0';
  const k = o.k || 1;
  d.style.transformOrigin = (o.a === 'c' ? 'center' : o.a === 'r' ? 'right' : 'left') + ' center';
  d.style.transform = 'translate(' + ax + ',-50%) scaleX(' + k + ')';
  (o.p || wrap).appendChild(d);
  return d;
}
// panel text: slightly taller, narrower glyphs
function ptxt(x, y, s, o) { return txt(x, y, s, Object.assign({ s: 13, k: 0.86 }, o || {})); }
function box(x, y, w, h, css, parent) {
  const d = document.createElement('div');
  d.className = 'ln';
  d.style.cssText += 'left:' + x + 'px;top:' + y + 'px;width:' + w + 'px;height:' + h + 'px;' + (css || 'background:#fff');
  (parent || wrap).appendChild(d);
  return d;
}
function panel(x, y, w, h) {
  const d = document.createElement('div');
  d.className = 'pan';
  d.style.cssText = 'left:' + x + 'px;top:' + y + 'px;width:' + w + 'px;height:' + h + 'px;';
  wrap.appendChild(d);
}

txt(40, 17, 'NAM 2026-06-21 12z, F036  VALID: Tue 2026-06-23 00z @KDCA', { s: 13, w: 500 });
txt(1170, 17, 'Plots powered by SHARPpy - www.pivotalweather.com', { s: 12, w: 500, a: 'r' });

// right side frames
box(40, 29, 1131, 2);
box(589, 29, 2, 546); box(649, 29, 2, 546); box(689, 29, 2, 546); box(1169, 29, 2, 546);
box(590, 573, 581, 2);
box(690, 439, 481, 2);
box(809, 440, 2, 134); box(929, 440, 2, 134); box(1049, 440, 2, 134);
box(1050, 465, 120, 2);
txt(592, 41, 'Wind Speed', { s: 11.5 });
txt(592, 54, '(knots)', { s: 11.5 });
txt(652, 41, 'Inf.', { s: 11.5 });
txt(652, 54, 'Temp.', { s: 11.5 });
txt(652, 66, 'Adv.', { s: 11.5 });
txt(1110, 454, 'Psbl Haz. Type', { s: 15, a: 'c' });
txt(1110, 516, 'TOR', { s: 16, a: 'c', c: '#ff0000' });

// bottom panels
panel(9, 596, 290, 195);
panel(297, 596, 293, 195);
panel(588, 596, 293, 195);
panel(879, 596, 290, 195);

// panel 1 : thermodynamics
const pcl = ['SFC', 'ML', 'FCST', 'MU'];
const pclCape = ['2171', '1904', '3217', '2172'];
const pclCinh = ['-52', '-39', '0', '-53'];
const pclLcl = ['321', '792', '1402', '307'];
const pclLi = ['-4', '-4', '-6', '-4'];
const pclLfc = ['1236', '1336', '1402', '1236'];
const pclEl = ['13711', '13522', '14106', '13711'];
const pclCols = [48, 84, 120, 156, 193, 229, 265];
['PCL', 'CAPE', 'CINH', 'LCL', 'LI', 'LFC', 'EL'].forEach((h, i) => ptxt(pclCols[i], 606.5, h, { a: 'c' }));
box(12, 613, 284, 2);
box(14, 651, 282, 11, 'border:1px solid #7a5a1a;box-sizing:border-box');
pcl.forEach((n, r) => {
  const y = 624.3 + r * 10.8;
  const mu = n === 'MU';
  [n, pclCape[r], pclCinh[r], pclLcl[r], pclLi[r], pclLfc[r], pclEl[r]].forEach((s, i) => {
    let c = '#fff';
    if (mu && i === 0) c = '#00ffff';
    if (mu && i === 1) c = '#ffff00';
    if (mu && i === 2) c = '#a8661a';
    ptxt(pclCols[i], y, s, { a: 'c', c });
  });
});
box(12, 664, 284, 2);
const col1 = ['PW = 2.13in', 'MeanW = 16.6g/kg', 'LowRH = 81%', 'MidRH = 81%', 'DCAPE = 523', 'DownT = 68F'];
const col2 = ['K = 34', 'TT = 44', 'ConvT = 88F', 'maxT = 92F', 'ESP = 0', 'MMP = 0.58'];
const col3 = ['WNDG = 0.0', 'TEI = 19', '3CAPE = 105', 'MBURST = 0', '', 'SigSvr = 49546 m3/s3'];
col1.forEach((s, i) => {
  const y = 674.3 + i * 11;
  ptxt(17, y, s, { c: i === 0 ? '#00ff00' : '#fff' });
  ptxt(113, y, col2[i]);
  ptxt(186, y, col3[i]);
});
box(12, 734, 284, 2);
box(210, 735, 2, 54);
['Sfc-3km AGL LR = 6.4 C/km', '3-6km AGL LR = 5.5 C/km', '850-500mb LR = 5.7 C/km', '700-500mb LR = 5.4 C/km']
  .forEach((s, i) => ptxt(17, 745 + i * 11, s));
[['Supercell = 13.4', '#ff0000'], ['STP (cin) = 3.2', '#ffff00'], ['STP (fix) = 3.4', '#ffff00'], ['SHIP = 0.5', '#fff']]
  .forEach((o, i) => ptxt(216, 745 + i * 11, o[0], { c: o[1] }));

// panel 2 : kinematics
[['EHI', 373], ['SRH', 417], ['BlkShr', 460], ['MnWind', 518], ['SRW', 562]].forEach(h => ptxt(h[1], 606.5, h[0], { a: 'c' }));
box(300, 613, 288, 2);
const kinRows = [
  ['SFC-1km', '3.7', '273', '32', '204/18', '113/31', 622.3],
  ['SFC-3km', '4.5', '335', '39', '226/27', '130/22', 633.3],
  ['Eff Inflow', '4.2', '307', '35', '213/25', '125/28', 644.3],
  ['SFC-6km', '', '', '51', '239/32', '142/15', 660.3],
  ['SFC-8km', '', '', '46', '239/33', '148/14', 671.3],
  ['LCL-EL (Cloud Layer)', '', '', '44', '241/37', '165/14', 682.3],
  ['Eff Shear (EBWD)', '', '', '48', '240/33', '145/14', 693.3]
];
const kinRight = [387, 431, 474, 530, 581];
kinRows.forEach(r => {
  ptxt(307, r[6], r[0]);
  for (let i = 1; i <= 5; i++) ptxt(kinRight[i - 1], r[6], r[i], { a: 'r' });
});
const smRows = [
  ['BRN Shear =', '90 m2/s2', '#fff', 709.3],
  ['4-6km SR Wind =', '224/11 kt', '#fff', 720.3],
  ['...Storm Motion Vectors...', '', '#fff', 736.3],
  ['Bunkers Right =', '263/37 kt', '#1e9be0', 747.3],
  ['Bunkers Left =', '216/37 kt', '#ff4a4a', 758.3],
  ['Corfidi Downshear =', '257/67 kt', '#fff', 769.3],
  ['Corfidi Upshear =', '276/27 kt', '#fff', 780.3]
];
smRows.forEach(r => { ptxt(307, r[3], r[0]); ptxt(474, r[3], r[1], { a: 'r', c: r[2] }); });
ptxt(533, 766.7, '1km & 6km AGL', { a: 'c', c: '#1f74d6' });
ptxt(533, 779.3, 'Wind Barbs', { a: 'c', c: '#1f74d6' });
const svg = document.createElementNS('http://www.w3.org/2000/svg', 'svg');
svg.setAttribute('width', '40'); svg.setAttribute('height', '30');
svg.style.cssText = 'position:absolute;left:500px;top:730px';
svg.innerHTML = '<path d="M7 4 L13 14 L33 3 M7 4 L33 3 M7 4 L4 5" stroke="#1f74d6" stroke-width="1.3" fill="none"/>' +
  '<path d="M25 8 L13 22 M20 14 L13 14 M17 17 L10 17 M14 20 L8 20" stroke="#c01818" stroke-width="1.3" fill="none"/>';
wrap.appendChild(svg);

// panel 3 : SARS
txt(736, 611.5, 'SARS - Sounding Analogs', { a: 'c', s: 21, w: 500 });
box(591, 625, 288, 2);
box(736, 626, 2, 163);
ptxt(663, 636.7, 'SUPERCELL', { a: 'c', s: 14 });
ptxt(808, 636.7, 'SGFNT HAIL', { a: 'c', s: 14 });
ptxt(594, 652.3, '26 May 04 23Z (TYS)', { c: '#a6720f' });
ptxt(701, 652.3, 'NON', { c: '#a6720f' });
ptxt(808, 680.7, 'No Quality Matches', { a: 'c' });
ptxt(663, 765.7, '(39 loose matches)', { a: 'c', c: '#e01ee0' });
ptxt(663, 780, 'SARS: 54% TOR', { a: 'c', c: '#e01ee0' });

// panel 4 : STP
txt(1025, 609, 'Effective Layer STP (with CIN)', { a: 'c', s: 16.5, w: 500 });
const leg = box(1025, 622, 143, 97, 'border:2px solid #fff;box-sizing:border-box;background:#000;overflow:hidden');
box(0, 24, 143, 2, 'background:#fff', leg);
txt(3, 9.5, 'Prob EF2+ torn with supercell', { p: leg, s: 12, k: 0.9 });
txt(3, 21.5, 'Sample CLIMO = .15 sigtor', { p: leg, s: 12, k: 0.9 });
const probLab = ['based on CAPE:', 'based on LCL:', 'based on ESRH:', 'based on EBWD:', 'based on STPC:', 'based on STP_fixed:'];
const probVal = ['0.13', '0.19', '0.2', '0.12', '0.25', '0.25'];
const probCol = ['#fff', '#ffff00', '#ffff00', '#8a6a14', '#ffff00', '#ffff00'];
probLab.forEach((s, i) => {
  txt(3, 33.5 + i * 11, s, { p: leg, s: 12, k: 0.9, c: probCol[i] });
  txt(105, 33.5 + i * 11, probVal[i], { p: leg, s: 12, k: 0.9, c: probCol[i] });
});
</script>
</body>
</html>
